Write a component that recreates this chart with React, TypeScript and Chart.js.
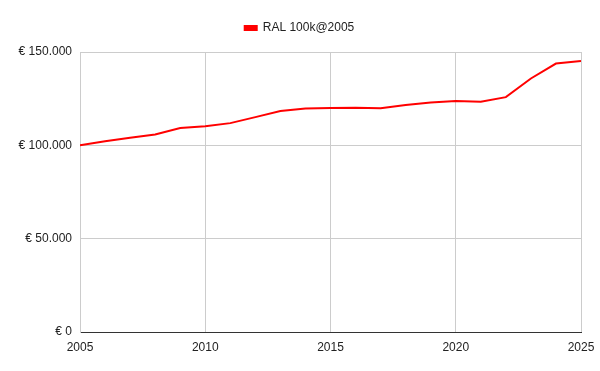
import React, { useEffect, useRef } from "react";
import { Chart, registerables } from "chart.js";

Chart.register(...registerables);

const years = [2005, 2006, 2007, 2008, 2009, 2010, 2011, 2012, 2013, 2014, 2015, 2016, 2017, 2018, 2019, 2020, 2021, 2022, 2023, 2024, 2025];
const ralValues = [100000, 102200, 104100, 105800, 109300, 110200, 111900, 115100, 118400, 119700, 120000, 120100, 119900, 121600, 123000, 123700, 123300, 125800, 135800, 143800, 145200];
const seriesLabel = "RAL 100k@2005";
const xTicks = [2005, 2010, 2015, 2020, 2025];
const yTicks = [0, 50000, 100000, 150000];

const fmtEuro = (v: number) => "€ " + String(Math.round(v)).replace(/\B(?=(\d{3})+(?!\d))/g, ".");

const legendSpacer = {
  id: "legendSpacer",
  beforeLayout(chart: any) {
    const lg = chart.legend;
    if (lg && !lg._spaced) {
      const orig = lg.fit.bind(lg);
      lg.fit = function () {
        orig();
        this.height += 8;
      };
      lg._spaced = true;
    }
  },
  afterLayout(chart: any) {
    const lg = chart.legend;
    if (lg) {
      lg.left += 9;
      lg.right += 9;
    }
  },
};

export default function App() {
  const ref = useRef<HTMLCanvasElement | null>(null);
  useEffect(() => {
    if (!ref.current) return;
    const font = { family: "'Liberation Sans', Arial, sans-serif", size: 12 };
    const chart = new Chart(ref.current, {
      type: "line",
      data: {
        datasets: [
          {
            label: seriesLabel,
            data: years.map((y, i) => ({ x: y, y: ralValues[i] })),
            borderColor: "#ff0000",
            backgroundColor: "#ff0000",
            borderWidth: 2,
            pointRadius: 0,
            tension: 0,
          },
        ],
      },
      options: {
        responsive: false,
        animation: false,
        layout: { padding: { top: 12, right: 19, left: 0, bottom: 0 } },
        plugins: {
          legend: {
            position: "top",
            labels: { boxWidth: 12, boxHeight: 4, padding: 10, color: "#222", font },
          },
          tooltip: { enabled: false },
        },
        scales: {
          x: {
            type: "linear",
            min: 2005,
            max: 2025,
            afterBuildTicks: (s: any) => {
              s.ticks = xTicks.map((v) => ({ value: v }));
            },
            afterFit: (s: any) => {
              s.height = 39;
              s.paddingLeft = 0;
              s.paddingRight = 0;
            },
            ticks: { color: "#222", font, padding: 8, maxRotation: 0, callback: (v: any) => String(v) },
            grid: { color: "#cccccc", drawTicks: false },
            border: { color: "#333333", width: 1 },
          },
          y: {
            min: 0,
            max: 150000,
            afterBuildTicks: (s: any) => {
              s.ticks = yTicks.map((v) => ({ value: v }));
            },
            afterFit: (s: any) => {
              s.width = 80;
              s.paddingTop = 0;
              s.paddingBottom = 0;
            },
            ticks: { color: "#222", font, padding: 8, callback: (v: any) => fmtEuro(Number(v)) },
            grid: { color: "#cccccc", drawTicks: false },
            border: { color: "#cccccc", width: 1 },
          },
        },
      },
      plugins: [legendSpacer],
    } as any);
    return () => chart.destroy();
  }, []);
  return (
    <div style={{ position: "fixed", left: 0, top: 0, width: 600, height: 371, background: "#fff" }}>
      <canvas ref={ref} width={600} height={371} />
    </div>
  );
}
